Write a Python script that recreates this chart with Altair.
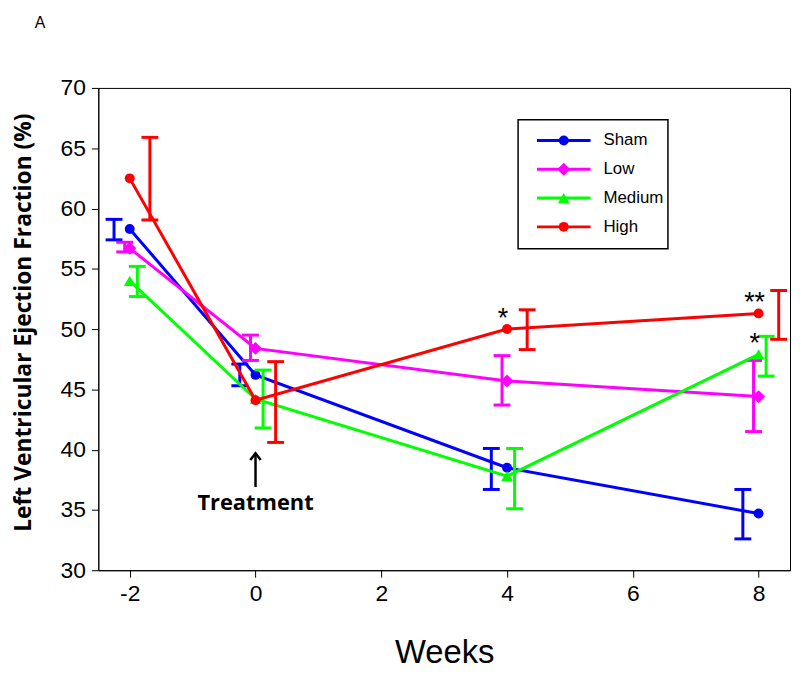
import altair as alt
import pandas as pd

# ---- data ----
weeks = [-2, 0, 4, 8]
series = ["Sham", "Low", "Medium", "High"]
colors = ["#0000FF", "#FF00FF", "#00FF00", "#FF0000"]
shapes = ["circle", "diamond", "triangle-up", "circle"]

sham_mean = [58.3, 46.2, 38.5, 34.7]
sham_lo = [57.4, 45.3, 36.7, 32.6]
sham_hi = [59.1, 47.1, 40.1, 36.7]

low_mean = [56.7, 48.4, 45.7, 44.4]
low_lo = [56.4, 47.4, 43.7, 41.5]
low_hi = [57.2, 49.5, 47.8, 47.4]

med_mean = [54.0, 44.2, 37.8, 47.9]
med_lo = [52.7, 41.8, 35.1, 46.1]
med_hi = [55.2, 46.6, 40.1, 49.4]

high_mean = [62.5, 44.1, 50.0, 51.3]
high_lo = [59.05, 40.6, 48.3, 49.15]
high_hi = [65.9, 47.3, 51.6, 53.2]

star_series = ["High", "High", "Medium"]
star_week = [4, 8, 8]
star_text = ["*", "**", "*"]

x_ticks = [-2, 0, 2, 4, 6, 8]
y_ticks = [30, 35, 40, 45, 50, 55, 60, 65, 70]

# ---- styling ----
err_offset = {"Sham": -0.25, "Low": -0.08, "Medium": 0.12, "High": 0.32}
pt_size = {"Sham": 100, "Low": 170, "Medium": 140, "High": 100}
W, H = 697, 486
FONT = "Liberation Sans"
BOLD = "Open Sans"

means = [sham_mean, low_mean, med_mean, high_mean]
lows = [sham_lo, low_lo, med_lo, high_lo]
highs = [sham_hi, low_hi, med_hi, high_hi]

rows = []
for s, m, lo, hi in zip(series, means, lows, highs):
    for w, a, b, c in zip(weeks, m, lo, hi):
        rows.append(dict(series=s, week=w, ef=a, lo=b, hi=c, xe=w + err_offset[s]))
df = pd.DataFrame(rows)

stars = pd.DataFrame({"series": star_series, "week": star_week, "label": star_text})
stars = stars.merge(df[["series", "week", "ef"]], on=["series", "week"])

xscale = alt.Scale(domain=[-2.5, 8.5], nice=False, zero=False)
yscale = alt.Scale(domain=[30, 70], nice=False, zero=False)
cscale = alt.Scale(domain=series, range=colors)

xaxis = alt.Axis(values=x_ticks, title="Weeks", grid=False, tickSize=7, tickColor="black",
                 domainColor="black", labelFontSize=23, labelFont=FONT, labelColor="black",
                 labelPadding=6, labelExpr="toString(datum.value)",
                 titleFont=FONT, titleFontSize=33, titleFontWeight="normal",
                 titleColor="black", titleX=W / 2, titleY=83, titleBaseline="middle")
yaxis = alt.Axis(values=y_ticks, title="Left Ventricular  Ejection Fraction (%)", grid=False,
                 tickSize=7, tickColor="black", domainColor="black", labelFontSize=23,
                 labelFont=FONT, labelColor="black", labelPadding=6,
                 labelExpr="toString(datum.value)", titleFont=BOLD,
                 titleFontSize=23, titleFontWeight="bold", titleColor="black",
                 titleAngle=-90, titleX=-75, titleY=236, titleAlign="center",
                 titleBaseline="middle")

X = alt.X("week:Q", scale=xscale, axis=xaxis)
Y = alt.Y("ef:Q", scale=yscale, axis=yaxis)
XE = alt.X("xe:Q", scale=xscale)
C = alt.Color("series:N", scale=cscale, legend=None)

layers = []
for i, s in enumerate(series):
    b = alt.Chart(df).transform_filter(alt.datum.series == s)
    layers.append(b.mark_rule(strokeWidth=3).encode(x=XE, y=alt.Y("lo:Q", scale=yscale), y2="hi:Q", color=C))
    layers.append(b.mark_tick(orient="horizontal", size=17, thickness=3, opacity=1).encode(x=XE, y=alt.Y("lo:Q", scale=yscale), color=C))
    layers.append(b.mark_tick(orient="horizontal", size=17, thickness=3, opacity=1).encode(x=XE, y=alt.Y("hi:Q", scale=yscale), color=C))
    layers.append(b.mark_line(strokeWidth=3).encode(x=X, y=Y, color=C, order="week:Q"))
    layers.append(b.mark_point(filled=True, opacity=1, shape=shapes[i], size=pt_size[s]).encode(x=X, y=Y, color=C))

star_layer = alt.Chart(stars).mark_text(fontSize=27, font=FONT, color="black", dx=-4, dy=-10,
                                        baseline="middle", align="center").encode(
    x=alt.X("week:Q", scale=xscale), y=alt.Y("ef:Q", scale=yscale), text="label:N")
layers.append(star_layer)

# Treatment annotation
treat = pd.DataFrame({"week": [0], "y0": [36.9], "y1": [39.7], "ty": [35.6], "label": ["Treatment"]})
tb = alt.Chart(treat)
layers.append(tb.mark_rule(strokeWidth=2.5, color="black").encode(
    x=alt.X("week:Q", scale=xscale), y=alt.Y("y0:Q", scale=yscale), y2="y1:Q"))
layers.append(tb.mark_point(shape="M-1,1.3L0,0L1,1.3", size=110, filled=False, strokeWidth=2.5,
                            color="black", opacity=1).encode(
    x=alt.X("week:Q", scale=xscale), y=alt.Y("y1:Q", scale=yscale)))
layers.append(tb.mark_text(font=BOLD, fontWeight="bold", fontSize=22, color="black",
                           baseline="middle", align="center").encode(
    x=alt.X("week:Q", scale=xscale), y=alt.Y("ty:Q", scale=yscale), text="label:N"))

# panel letter
one = pd.DataFrame({"t": ["A"]})
layers.append(alt.Chart(one).mark_text(font=FONT, fontSize=16, color="black", align="left",
                                       baseline="alphabetic").encode(
    x=alt.value(-64), y=alt.value(-60), text="t:N"))

main = alt.layer(*layers)

# manual legend
leg_df = pd.DataFrame({"series": series})
LY = alt.Y("series:N", scale=alt.Scale(type="point", domain=series, range=[53, 140], padding=0), axis=None)
box = alt.Chart(one).mark_rect(fill="white", stroke="black", strokeWidth=1.5).encode(
    x=alt.value(423), x2=alt.value(574), y=alt.value(32), y2=alt.value(162))
leg_layers = [box]
lb = alt.Chart(leg_df)
leg_layers.append(lb.mark_rule(strokeWidth=3).encode(x=alt.value(442), x2=alt.value(496), y=LY, color=C))
for i, s in enumerate(series):
    leg_layers.append(alt.Chart(leg_df).transform_filter(alt.datum.series == s).mark_point(
        filled=True, opacity=1, shape=shapes[i], size=pt_size[s]).encode(x=alt.value(469), y=LY, color=C))
leg_layers.append(lb.mark_text(font=FONT, fontSize=17, color="black", align="left", baseline="middle").encode(
    x=alt.value(509), y=LY, text="series:N"))
legend = alt.layer(*leg_layers)

chart = alt.layer(main, legend).resolve_scale(y="independent").properties(
    width=W, height=H,
    autosize=alt.AutoSizeParams(type="none"),
    padding={"left": 91, "top": 78, "right": 2, "bottom": 100},
).configure_view(stroke="black", strokeWidth=1)

chart.save("out.html", embed_options={"renderer": "svg", "actions": False})
